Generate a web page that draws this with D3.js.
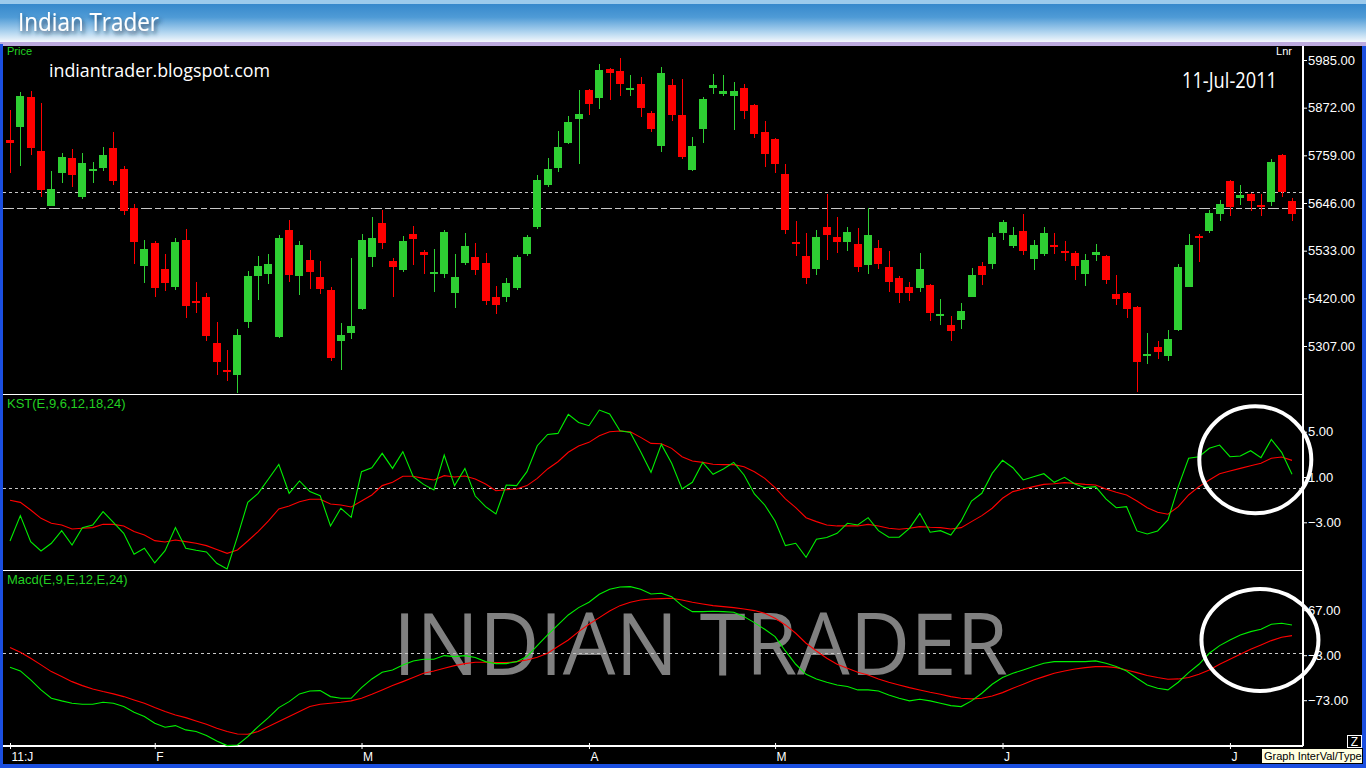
<!DOCTYPE html>
<html>
<head>
<meta charset="utf-8">
<script src="https://cdn.jsdelivr.net/npm/d3@7"></script>
<style>
  body { margin: 0; background: #000; overflow: hidden; }
  svg { display: block; }
</style>
</head>
<body>
<svg id="chart" width="1366" height="768"></svg>
<script>
// daily OHLC, 125 sessions ending 11-Jul-2011
const openP = [5795,5825,5897,5769,5640,5718,5753,5661,5725,5730,5776,5727,5634,5497,5551,5490,5448,5558,5414,5423,
  5314,5250,5239,5365,5474,5478,5329,5582,5474,5511,5471,5440,5320,5339,5395,5519,5599,5509,5486,5573,
  5530,5481,5478,5433,5504,5518,5504,5423,5424,5445,5526,5590,5689,5730,5789,5844,5914,5896,5964,5959,
  5917,5928,5859,5780,5926,5855,5725,5822,5919,5905,5900,5919,5878,5814,5798,5715,5554,5520,5490,5589,
  5565,5554,5549,5500,5539,5494,5468,5447,5445,5452,5381,5357,5369,5424,5497,5502,5576,5545,5580,5514,
  5526,5546,5533,5527,5478,5523,5520,5430,5433,5399,5287,5305,5284,5346,5448,5568,5580,5621,5698,5659,
  5667,5641,5649,5760,5651];
const highP = [5867,5909,5912,5883,5722,5765,5774,5765,5743,5779,5814,5734,5644,5558,5556,5525,5563,5584,5459,5433,
  5364,5297,5347,5485,5520,5525,5570,5606,5556,5535,5509,5447,5362,5516,5573,5613,5629,5516,5568,5592,
  5535,5537,5582,5525,5575,5551,5527,5449,5468,5523,5570,5712,5753,5817,5852,5914,5916,5976,5966,5990,
  5950,5945,5864,5968,5940,5940,5803,5897,5952,5950,5933,5928,5881,5840,5800,5739,5603,5575,5582,5667,
  5613,5589,5587,5634,5558,5532,5473,5459,5527,5454,5418,5378,5409,5492,5506,5575,5606,5589,5620,5558,
  5589,5575,5556,5532,5525,5549,5522,5475,5435,5401,5338,5319,5345,5501,5573,5573,5629,5653,5701,5689,
  5670,5668,5750,5762,5658];
const lowP = [5718,5734,5760,5661,5638,5694,5685,5656,5694,5723,5689,5618,5502,5457,5424,5438,5440,5374,5386,5320,
  5239,5225,5196,5350,5417,5455,5327,5459,5429,5443,5431,5272,5250,5324,5393,5495,5538,5424,5483,5500,
  5478,5436,5469,5398,5500,5476,5405,5384,5412,5440,5521,5585,5685,5720,5787,5739,5855,5870,5889,5900,
  5900,5851,5815,5768,5841,5750,5723,5789,5905,5900,5820,5844,5801,5732,5716,5573,5521,5455,5476,5512,
  5528,5533,5483,5478,5490,5436,5410,5414,5436,5367,5357,5320,5348,5422,5452,5490,5559,5540,5523,5488,
  5521,5526,5509,5464,5450,5509,5455,5405,5374,5199,5265,5277,5272,5343,5446,5507,5576,5604,5616,5642,
  5628,5616,5640,5661,5604];
const closeP = [5789,5900,5777,5678,5679,5755,5713,5741,5727,5760,5697,5628,5554,5537,5445,5457,5554,5403,5411,5331,
  5270,5247,5333,5473,5497,5501,5563,5476,5546,5483,5443,5279,5333,5354,5558,5563,5552,5495,5556,5561,
  5523,5483,5577,5471,5544,5486,5414,5405,5456,5518,5565,5700,5727,5779,5838,5857,5881,5961,5953,5929,
  5919,5872,5821,5954,5855,5756,5781,5893,5926,5912,5912,5863,5810,5763,5739,5583,5552,5469,5565,5571,
  5554,5577,5495,5570,5502,5459,5433,5433,5490,5386,5383,5343,5390,5475,5476,5565,5601,5570,5533,5546,
  5575,5544,5531,5497,5511,5530,5464,5419,5395,5270,5289,5293,5324,5494,5546,5566,5622,5644,5637,5665,
  5651,5637,5743,5673,5621];

// KST(E,9,6,12,18,24) and its signal
const kstLine = [-4.65,-2.41,-4.71,-5.53,-4.85,-3.74,-5.0,-3.47,-3.24,-2.06,-3.0,-3.97,-5.82,-5.29,-6.59,-5.5,-3.47,-5.29,-5.47,-5.62,
  -6.62,-7.12,-4.26,-1.24,-0.44,0.82,2.12,-0.44,0.65,-0.29,-0.65,-3.32,-1.76,-2.56,1.47,1.82,3.09,1.76,3.24,1.03,
  0.35,-0.15,2.94,0.24,1.76,-0.68,-1.62,-2.26,0.29,0.24,1.47,3.76,4.76,4.85,6.53,5.82,5.53,6.91,6.56,5.09,
  4.94,3.24,1.41,3.88,2.21,-0.06,0.53,2.29,1.24,1.71,2.29,1.18,-0.5,-1.47,-2.88,-5.06,-4.85,-6.09,-4.5,-4.35,
  -3.97,-3.09,-3.24,-2.59,-3.74,-4.32,-4.32,-3.53,-2.21,-3.88,-3.74,-4.12,-2.88,-1.12,-0.44,1.32,2.47,1.82,0.74,1.03,
  1.29,0.53,0.97,0.38,0.06,0.15,-0.94,-1.71,-1.62,-3.76,-4.03,-3.76,-2.79,0.15,2.65,2.79,3.53,3.82,2.79,2.85,
  3.32,2.71,4.32,3.18,1.24];
const kstSignal = [-1.06,-1.24,-1.91,-2.65,-3.09,-3.24,-3.59,-3.53,-3.47,-3.18,-3.18,-3.32,-3.82,-4.12,-4.62,-4.74,-4.56,-4.71,-4.85,-5.06,
  -5.41,-5.74,-5.44,-4.65,-3.82,-2.88,-1.82,-1.56,-1.18,-0.97,-0.97,-1.38,-1.47,-1.65,-1.12,-0.59,0.24,0.53,1.06,1.06,
  0.88,0.74,1.12,1.0,1.09,0.82,0.38,-0.21,-0.12,-0.06,0.24,0.88,1.71,2.35,3.18,3.74,4.06,4.65,5.0,5.06,
  5.0,4.5,3.97,3.94,3.53,2.79,2.41,2.29,2.12,2.09,2.09,1.91,1.47,0.88,0.06,-0.94,-1.71,-2.59,-2.94,-3.24,
  -3.32,-3.32,-3.32,-3.18,-3.32,-3.53,-3.62,-3.53,-3.38,-3.44,-3.47,-3.59,-3.47,-2.94,-2.41,-1.76,-0.88,-0.29,-0.06,0.15,
  0.35,0.41,0.5,0.44,0.35,0.29,-0.06,-0.35,-0.59,-1.12,-1.71,-2.12,-2.29,-1.62,-0.59,0.15,0.74,1.29,1.53,1.76,
  2.0,2.21,2.65,2.76,2.47];

// Macd(E,9,E,12,E,24) and its signal
const macdLine = [-21.8,-27.5,-41.5,-57.0,-70.0,-74.1,-77.8,-79.3,-79.3,-76.2,-77.8,-82.9,-91.8,-98.5,-108.9,-115.1,-112.5,-119.2,-121.8,-128.0,
  -136.3,-143.6,-142.6,-129.6,-114.0,-100.1,-84.5,-75.2,-63.2,-58.6,-58.1,-67.4,-70.0,-70.0,-53.4,-39.9,-29.5,-25.9,-18.1,-11.9,
  -9.3,-9.3,-3.6,-5.2,-3.6,-6.7,-13.0,-16.1,-16.1,-13.0,-5.2,11.9,28.5,44.1,59.6,71.0,79.3,91.8,99.5,103.2,
  103.7,99.5,92.3,93.3,88.1,74.1,64.8,64.8,65.3,64.8,63.8,57.0,47.7,37.3,25.9,3.6,-17.1,-32.7,-39.9,-45.1,
  -49.3,-51.8,-57.0,-57.0,-58.6,-64.8,-70.0,-74.1,-71.5,-74.1,-77.8,-81.4,-82.9,-74.1,-62.2,-48.2,-37.8,-31.1,-25.9,-20.7,
  -15.6,-13.0,-13.0,-13.0,-13.0,-11.9,-15.6,-20.7,-27.5,-38.9,-49.3,-54.4,-57.0,-45.1,-30.1,-17.1,0,11.9,20.7,28.5,
  33.7,37.3,45.1,46.7,44.1];
const macdSignal = [8.8,1.6,-7.8,-18.1,-28.5,-36.3,-44.1,-50.3,-55.5,-59.6,-63.2,-67.4,-72.6,-77.8,-84.5,-90.7,-95.9,-100.1,-105.2,-110.4,
  -116.6,-121.8,-125.5,-126.0,-121.8,-114.0,-106.3,-98.5,-90.7,-82.9,-79.3,-77.8,-76.2,-74.1,-70.0,-63.8,-57.0,-50.3,-44.1,-37.8,
  -31.1,-27.5,-23.3,-19.2,-16.1,-14.0,-14.0,-14.5,-14.5,-13.0,-10.4,-6.2,0,10.4,20.7,33.7,45.1,55.5,65.8,74.1,
  79.3,82.9,84.5,85.0,85.5,82.9,79.3,76.7,74.1,72.6,71.0,68.9,66.4,62.2,54.4,44.1,31.1,15.6,3.6,-7.8,
  -17.1,-23.3,-29.5,-33.7,-39.9,-45.1,-49.3,-53.4,-57.0,-60.7,-63.8,-67.4,-70.0,-71.0,-70.0,-66.4,-61.2,-54.4,-48.2,-41.5,
  -36.3,-31.1,-27.5,-24.4,-22.3,-20.7,-20.7,-22.3,-25.9,-30.1,-34.7,-37.8,-40.4,-39.9,-37.8,-32.7,-25.9,-17.1,-9.3,-1.6,
  6.2,13.0,19.7,24.9,27.5];

const priceTicks = [5307, 5420, 5533, 5646, 5759, 5872, 5985];
const kstTicks = [-3, 1, 5];
const macdTicks = [-73, -3, 67];
const monthIdx = [0, 14, 34, 56, 74, 96, 118];
const monthLabels = ['11:J', 'F', 'M', 'A', 'M', 'J', 'J'];
const refLevels = [5673, 5633];   // previous close / reference line

const W = 1366, H = 768;
const plotL = 3, plotR = 1303;
const pricePanel = { top: 46, bottom: 394.5 },
      kstPanel = { top: 394.5, bottom: 570.3 },
      macdPanel = { top: 570.3, bottom: 746 };

const GREEN = '#2ecf33', RED = '#ff0000', LINE_GREEN = '#00f000';
const FONT = '"Liberation Sans", Arial, sans-serif';

const svg = d3.select('#chart');
const defs = svg.append('defs');

// ---------- frame ----------
svg.append('rect').attr('width', W).attr('height', H).attr('fill', '#000');

const grad = defs.append('linearGradient').attr('id', 'titleGrad')
  .attr('x1', 0).attr('y1', 0).attr('x2', 0).attr('y2', 1);
grad.append('stop').attr('offset', '0%').attr('stop-color', '#3688cc');
grad.append('stop').attr('offset', '35%').attr('stop-color', '#4f9bd6');
grad.append('stop').attr('offset', '75%').attr('stop-color', '#b3d6f0');
grad.append('stop').attr('offset', '100%').attr('stop-color', '#f4f8fc');

svg.append('rect').attr('x', 0).attr('y', 0).attr('width', W).attr('height', 5).attr('fill', '#9ccaec');
svg.append('rect').attr('x', 0).attr('y', 4).attr('width', W).attr('height', 38).attr('fill', 'url(#titleGrad)');
svg.append('rect').attr('x', 0).attr('y', 42).attr('width', W).attr('height', 4).attr('fill', '#bcaade');

const shadow = defs.append('filter').attr('id', 'tshadow')
  .attr('x', '-10%').attr('y', '-30%').attr('width', '130%').attr('height', '180%');
shadow.append('feDropShadow').attr('dx', 2).attr('dy', 3).attr('stdDeviation', 2.2)
  .attr('flood-color', '#12304e').attr('flood-opacity', 0.85);

svg.append('text')
  .attr('x', 18).attr('y', 31)
  .attr('font-family', '"Open Sans", sans-serif').attr('font-size', 26)
  .attr('textLength', 141).attr('lengthAdjust', 'spacingAndGlyphs')
  .attr('fill', '#fff').attr('filter', 'url(#tshadow)')
  .text('Indian Trader');

// side / bottom window borders
svg.append('rect').attr('x', 0).attr('y', 44).attr('width', 3).attr('height', H - 44).attr('fill', '#1b4fe0');
svg.append('rect').attr('x', 1362).attr('y', 46).attr('width', 4).attr('height', H - 46).attr('fill', '#1b4fe0');
svg.append('rect').attr('x', 0).attr('y', 764).attr('width', W).attr('height', 4).attr('fill', '#1b4fe0');

// ---------- scales ----------
const x = d3.scaleLinear().domain([0, openP.length - 1]).range([10, 1292]);
const yPrice = d3.scaleLinear().domain([5307, 5985]).range([346, 60]);
const yKst = d3.scaleLinear().domain([-3, 5]).range([522.3, 431.7]);
const yMacd = d3.scaleLinear().domain([-73, 67]).range([700.2, 610.2]);

// watermark
svg.append('text')
  .attr('x', 393).attr('y', 675)
  .attr('font-family', '"Open Sans", sans-serif').attr('font-size', 86)
  .attr('textLength', 615).attr('lengthAdjust', 'spacingAndGlyphs')
  .attr('fill', '#808080')
  .text('INDIAN TRADER');

// ---------- panel borders ----------
const frame = svg.append('g').attr('stroke', '#fff').attr('stroke-width', 1.5).attr('shape-rendering', 'crispEdges');
[pricePanel.bottom, kstPanel.bottom, macdPanel.bottom].forEach(y => {
  frame.append('line').attr('x1', plotL).attr('x2', plotR).attr('y1', y).attr('y2', y);
});
frame.append('line').attr('x1', plotR).attr('x2', plotR).attr('y1', pricePanel.top).attr('y2', macdPanel.bottom);

// dashed reference lines
const dash = svg.append('g').attr('stroke', '#c8c8c8').attr('stroke-width', 1).attr('shape-rendering', 'crispEdges');
dash.append('line').attr('x1', plotL).attr('x2', plotR)
  .attr('y1', Math.round(yPrice(refLevels[0])) + 0.5).attr('y2', Math.round(yPrice(refLevels[0])) + 0.5)
  .attr('stroke-dasharray', '3,3');
dash.append('line').attr('x1', plotL).attr('x2', plotR)
  .attr('y1', Math.round(yPrice(refLevels[1])) + 0.5).attr('y2', Math.round(yPrice(refLevels[1])) + 0.5)
  .attr('stroke-dasharray', '11,3,6,3');
dash.append('line').attr('x1', plotL).attr('x2', plotR)
  .attr('y1', Math.round(yKst(0)) + 0.5).attr('y2', Math.round(yKst(0)) + 0.5)
  .attr('stroke-dasharray', '3,3');
dash.append('line').attr('x1', plotL).attr('x2', plotR)
  .attr('y1', Math.round(yMacd(0)) + 0.5).attr('y2', Math.round(yMacd(0)) + 0.5)
  .attr('stroke-dasharray', '3,3');

// ---------- candles ----------
const candles = d3.range(openP.length).map(i => ({
  i, o: openP[i], h: highP[i], l: lowP[i], c: closeP[i]
}));

const cg = svg.append('g').attr('shape-rendering', 'crispEdges');
const candle = cg.selectAll('g.candle').data(candles).enter().append('g').attr('class', 'candle')
  .attr('fill', d => d.c < d.o ? RED : GREEN);

candle.append('rect')
  .attr('x', d => Math.round(x(d.i)))
  .attr('width', 1)
  .attr('y', d => yPrice(d.h))
  .attr('height', d => yPrice(d.l) - yPrice(d.h));

candle.append('rect')
  .attr('x', d => Math.round(x(d.i)) - 4)
  .attr('width', 8)
  .attr('y', d => Math.min(yPrice(d.o), yPrice(d.c)))
  .attr('height', d => Math.max(2, Math.abs(yPrice(d.o) - yPrice(d.c))));

// ---------- indicator lines ----------
function drawLine(values, yScale, color) {
  const line = d3.line().x((d, i) => x(i)).y(d => yScale(d));
  svg.append('path').datum(values)
    .attr('d', line)
    .attr('fill', 'none')
    .attr('stroke', color)
    .attr('stroke-width', 1.1);
}
drawLine(kstSignal, yKst, RED);
drawLine(kstLine, yKst, LINE_GREEN);
drawLine(macdSignal, yMacd, RED);
drawLine(macdLine, yMacd, LINE_GREEN);

// ---------- right axes ----------
function rightAxis(scale, ticks) {
  const g = svg.append('g').attr('transform', 'translate(' + plotR + ',0)')
    .call(d3.axisRight(scale).tickValues(ticks).tickFormat(d3.format('.2f')).tickSize(4).tickPadding(1));
  g.select('.domain').remove();
  g.selectAll('line').attr('stroke', '#fff');
  g.selectAll('text').attr('fill', '#fff').attr('font-family', FONT).attr('font-size', 13);
}
rightAxis(yPrice, priceTicks);
rightAxis(yKst, kstTicks);
rightAxis(yMacd, macdTicks);

// ---------- time axis ----------
const xAxis = svg.append('g').attr('transform', 'translate(0,' + macdPanel.bottom + ')')
  .call(d3.axisBottom(x).tickValues(monthIdx).tickFormat((d, i) => monthLabels[i]).tickSize(3).tickPadding(3));
xAxis.select('.domain').remove();
xAxis.selectAll('line').attr('stroke', '#fff').attr('y1', -3);
xAxis.selectAll('text')
  .attr('fill', '#fff').attr('font-family', FONT).attr('font-size', 12)
  .attr('text-anchor', 'start').attr('dx', 1);

// ---------- labels ----------
const labels = svg.append('g').attr('font-family', FONT);
labels.append('text').attr('x', 7).attr('y', 55).attr('font-size', 11).attr('fill', '#22d022').text('Price');
labels.append('text').attr('x', 1292).attr('y', 55).attr('font-size', 11).attr('fill', '#fff')
  .attr('text-anchor', 'end').text('Lnr');
labels.append('text').attr('x', 7).attr('y', 408).attr('font-size', 13).attr('fill', '#22d022').text('KST(E,9,6,12,18,24)');
labels.append('text').attr('x', 7).attr('y', 584).attr('font-size', 13).attr('fill', '#22d022').text('Macd(E,9,E,12,E,24)');

svg.append('text')
  .attr('x', 49).attr('y', 77)
  .attr('font-family', '"Open Sans", sans-serif').attr('font-size', 18)
  .attr('textLength', 221).attr('lengthAdjust', 'spacingAndGlyphs')
  .attr('fill', '#fff').text('indiantrader.blogspot.com');

svg.append('text')
  .attr('x', 1182).attr('y', 88)
  .attr('font-family', '"Open Sans", sans-serif').attr('font-size', 21)
  .attr('textLength', 95).attr('lengthAdjust', 'spacingAndGlyphs')
  .attr('fill', '#fff').text('11-Jul-2011');

// ---------- hand-drawn circles ----------
const circles = [
  { i: 120.45, v: 2.52, scale: yKst, rx: 56, ry: 53.5 },
  { i: 120.9, v: 20.7, scale: yMacd, rx: 58.5, ry: 51 }
];
svg.append('g').selectAll('ellipse').data(circles).enter().append('ellipse')
  .attr('cx', d => x(d.i)).attr('cy', d => d.scale(d.v))
  .attr('rx', d => d.rx).attr('ry', d => d.ry)
  .attr('fill', 'none').attr('stroke', '#fff').attr('stroke-width', 4);

// ---------- bottom-right widgets ----------
svg.append('rect').attr('x', 1347.5).attr('y', 735.5).attr('width', 14).attr('height', 12)
  .attr('fill', '#000').attr('stroke', '#fff').attr('stroke-width', 1);
svg.append('text').attr('x', 1354.5).attr('y', 746).attr('text-anchor', 'middle')
  .attr('font-family', FONT).attr('font-size', 12).attr('fill', '#fff').text('Z');

svg.append('rect').attr('x', 1261.5).attr('y', 748.5).attr('width', 101).attr('height', 15)
  .attr('fill', '#ffffe1').attr('stroke', '#000').attr('stroke-width', 1);
svg.append('text').attr('x', 1264).attr('y', 760)
  .attr('font-family', FONT).attr('font-size', 11).attr('fill', '#000').text('Graph InterVal/Type');
</script>
</body>
</html>
